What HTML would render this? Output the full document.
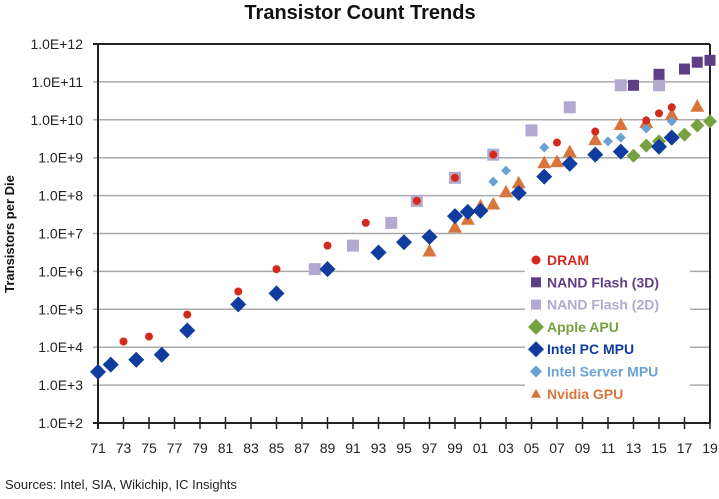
<!DOCTYPE html>
<html><head><meta charset="utf-8"><style>
body{margin:0;background:#fff;font-family:"Liberation Sans",sans-serif}
</style></head><body>
<svg width="719" height="494" viewBox="0 0 719 494" id="chart" style="font-family:'Liberation Sans',sans-serif">
<text x="360" y="19" text-anchor="middle" font-size="20" font-weight="bold" fill="#111">Transistor Count Trends</text>
<text transform="translate(14,234) rotate(-90)" text-anchor="middle" font-size="13" font-weight="bold" fill="#111">Transistors per Die</text>
<text x="5" y="489" font-size="13" fill="#222">Sources:  Intel, SIA, Wikichip, IC Insights</text>
<g id="grid"></g><g id="marks"></g><g id="legend"></g>
</svg>
<script>
const yTickLabels=["1.0E+2","1.0E+3","1.0E+4","1.0E+5","1.0E+6","1.0E+7","1.0E+8","1.0E+9","1.0E+10","1.0E+11","1.0E+12"];
const xTickLabels=["71","73","75","77","79","81","83","85","87","89","91","93","95","97","99","01","03","05","07","09","11","13","15","17","19"];
const dramYears=[1973,1975,1978,1982,1985,1989,1992,1996,1999,2002,2007,2010,2014,2015,2016];
const dramLog=[4.15,4.28,4.86,5.47,6.06,6.68,7.28,7.86,8.47,9.08,9.4,9.69,9.98,10.17,10.33];
const nand3dYears=[2013,2015,2017,2018,2019];
const nand3dLog=[10.91,11.2,11.34,11.52,11.57];
const nand2dYears=[1988,1991,1994,1996,1999,2002,2005,2008,2012,2015];
const nand2dLog=[6.06,6.68,7.28,7.86,8.47,9.08,9.72,10.33,10.91,10.91];
const appleYears=[2013,2014,2015,2016,2017,2018,2019];
const appleLog=[9.05,9.32,9.43,9.56,9.61,9.85,9.96];
const intelYears=[1971,1972,1974,1976,1978,1982,1985,1989,1993,1995,1997,1999,2000,2001,2004,2006,2008,2010,2012,2015,2016];
const intelLog=[3.35,3.54,3.67,3.8,4.44,5.13,5.42,6.06,6.5,6.77,6.91,7.46,7.57,7.6,8.07,8.5,8.84,9.08,9.16,9.29,9.53];
const serverYears=[2002,2003,2006,2011,2012,2014,2016];
const serverLog=[8.37,8.66,9.27,9.43,9.53,9.77,9.96];
const nvidiaYears=[1997,1999,2000,2001,2002,2003,2004,2006,2007,2008,2010,2012,2014,2016,2018];
const nvidiaLog=[6.54,7.17,7.38,7.73,7.78,8.1,8.34,8.87,8.9,9.16,9.48,9.88,9.93,10.14,10.36];
const L=98,R=710,T=44,B=423;
const xs=y=>L+(y-1971)*(R-L)/48;
const ys=v=>B-(v-2)*(B-T)/10;
const NS="http://www.w3.org/2000/svg";
function mk(tag,at,parent){const e=document.createElementNS(NS,tag);for(const k in at)e.setAttribute(k,at[k]);parent.appendChild(e);return e;}
const grid=document.getElementById('grid'),marks=document.getElementById('marks'),leg=document.getElementById('legend');
yTickLabels.forEach((t,i)=>{const y=ys(i+2);
 const g=mk('line',{x1:L-5,x2:R,y1:y,y2:y,stroke:i==0||i==10?'#222':'#aaa','stroke-width':i==0||i==10?2:1.5},grid);
 
 
 const tx=mk('text',{x:L-15,y:y+5,'text-anchor':'end','font-size':14,fill:'#222'},grid);tx.textContent=t;
 
 });
xTickLabels.forEach((t,i)=>{const x=xs(1971+2*i);
 const k=mk('line',{x1:x,x2:x,y1:B-6,y2:B+6,stroke:'#222','stroke-width':1.5},grid);
 
 
 const tx=mk('text',{x:x,y:B+30,'text-anchor':'middle','font-size':14,fill:'#222'},grid);tx.textContent=t;
 
 });
const ax=mk('line',{x1:L,x2:L,y1:T,y2:B+6,stroke:'#222','stroke-width':2},grid);


const ax2=mk('line',{x1:R,x2:R,y1:T,y2:B,stroke:'#222','stroke-width':2},grid);


function shape(kind,x,y,s,col,parent){
 if(kind=='c')return mk('circle',{cx:x,cy:y,r:s,fill:col},parent);
 if(kind=='s')return mk('rect',{x:x-s,y:y-s,width:2*s,height:2*s,fill:col},parent);
 if(kind=='d')return mk('polygon',{points:`${x},${y-s} ${x+s},${y} ${x},${y+s} ${x-s},${y}`,fill:col},parent);
 return mk('polygon',{points:`${x},${y-s} ${x+s},${y+s*0.8} ${x-s},${y+s*0.8}`,fill:col},parent);}
const series=[
 ['nand2d-point',nand2dYears,nand2dLog,'s',6,'#b3a8cf'],
 ['nand3d-point',nand3dYears,nand3dLog,'s',5.5,'#5e3f86'],
 ['nvidia-point',nvidiaYears,nvidiaLog,'t',7,'#d9743c'],
 ['apple-point',appleYears,appleLog,'d',7,'#77a040'],
 ['intel-pc-point',intelYears,intelLog,'d',8,'#0f3c9e'],
 ['intel-server-point',serverYears,serverLog,'d',5,'#6aa2d6'],
 ['dram-point',dramYears,dramLog,'c',4,'#d42a1e']];
series.forEach(([n,xa,ya,k,s,c])=>xa.forEach((yr,i)=>{const e=shape(k,xs(yr),ys(ya[i]),s,c,marks);
 
 }));
const legItems=[['DRAM','c',4.5,'#d42a1e'],['NAND Flash (3D)','s',5,'#5e3f86'],['NAND Flash (2D)','s',5,'#b3a8cf'],['Apple APU','d',8,'#77a040'],['Intel PC MPU','d',8,'#0f3c9e'],['Intel Server MPU','d',6,'#6aa2d6'],['Nvidia GPU','t',5,'#d9743c']];
const bg=mk('rect',{x:525,y:246,width:165,height:160,fill:'#fff'},leg);


legItems.forEach(([t,k,s,c],i)=>{const y=260+i*22.3;
 const g=mk('g',{},leg);
 
 
 shape(k,536,y,s,c,g);
 const tx=mk('text',{x:547,y:y+5,'font-size':14,'font-weight':'bold',fill:c},g);tx.textContent=t;});
</script>
</body></html>
